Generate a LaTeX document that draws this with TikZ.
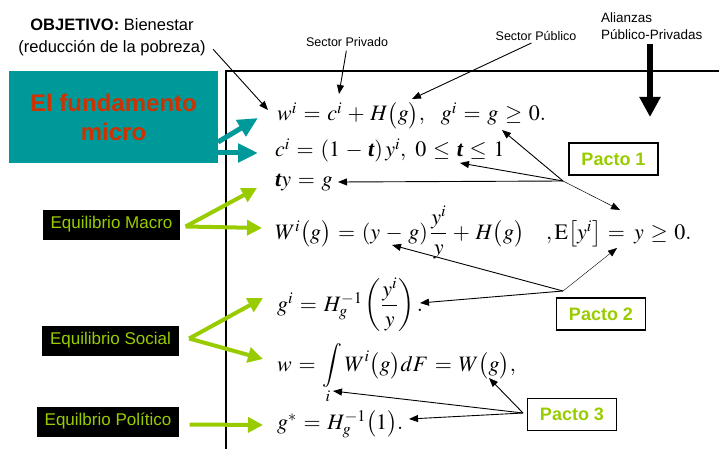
\documentclass[tikz,border=0pt]{standalone}
\usepackage{amsmath}
\usepackage{mathptmx}
\usepackage{fontspec}
\setmainfont{Liberation Serif}
\newfontfamily\arial{Liberation Sans}
\usetikzlibrary{positioning, arrows.meta}

\definecolor{tealbox}{RGB}{0,153,153}
\definecolor{microred}{RGB}{204,51,0}
\definecolor{pactgreen}{RGB}{153,204,0}

\newcommand{\tb}{\mbox{\bfseries\itshape t}}
\thickmuskip=5.5mu plus 2mu
\medmuskip=4.5mu plus 2mu

\tikzset{
  eq/.style={anchor=base west, inner sep=0pt, font=\fontsize{22}{26}\selectfont},
  equil/.style={fill=black, text=pactgreen, inner xsep=8pt, minimum height=30pt,
    font=\arial\fontsize{17}{20}\selectfont},
  pacto/.style={draw=black, line width=1.2pt, text=pactgreen, minimum width=89pt,
    minimum height=32pt, font=\arial\bfseries\fontsize{18}{20}\selectfont},
  note/.style={inner sep=0pt, font=\arial\fontsize{12.5}{15}\selectfont},
  ptr/.style={-{Triangle[length=9pt,width=7pt]}, line width=0.9pt},
  tealarrow/.style={-{Triangle[length=20pt,width=18pt]}, line width=5pt, tealbox},
  greenarrow/.style={-{Triangle[length=15pt,width=15pt]}, line width=4pt, pactgreen},
}

\begin{document}
\begin{tikzpicture}[x=1pt, y=-1pt]
  \useasboundingbox (0,0) rectangle (719,449);

  % marco
  \draw[line width=1.2pt] (226,449) -- (226,71) -- (719,71);

  % titulos
  \node[align=center, font=\arial\fontsize{16.5}{22}\selectfont] (obj) at (112,37)
    {\textbf{OBJETIVO:} Bienestar\\(reducción de la pobreza)};
  \node[fill=tealbox, text=microred, align=center, minimum width=209pt, minimum height=92pt,
    font=\arial\bfseries\fontsize{24}{29}\selectfont] (micro) at (113.5,117) {El fundamento\\micro};
  \node[note] (priv) at (347,42) {Sector Privado};
  \node[note] (pub) at (536,36) {Sector Público};
  \node[note, align=left, anchor=north west, font=\arial\fontsize{13.5}{17}\selectfont] (ali) at (601,13)
    {Alianzas\\Público-Privadas};

  % ecuaciones
  \node[eq] (e1) at (277,121) {$w^{i} = c^{i} + H\bigl(g\bigr),\;\; g^{i} = g \geq 0.$};
  \node[eq] (e2) at (275,157) {$c^{i} = (1-\tb)\,y^{i},\; 0 \leq \tb \leq 1$};
  \node[eq] (e3) at (275,186) {$\tb y = g$};
  \node[eq] (e4) at (275,239)
    {$W^{i}\bigl(g\bigr) = (y-g)\,\dfrac{y^{i}}{y} + H\bigl(g\bigr) \quad ,\mathrm{E}\bigl[y^{i}\bigr] = \,y \geq 0.$};
  \node[eq] (e5) at (277,311) {$g^{i} = H_{g}^{-1}\left(\dfrac{y^{i}}{y}\right).$};
  \node[eq] (e6) at (277,371) {$w = \displaystyle\int\limits_{i} W^{i}\bigl(g\bigr)dF = W\bigl(g\bigr),$};
  \node[eq] (e7) at (277,429) {$g^{*} = H_{g}^{-1}\bigl(1\bigr).$};

  % equilibrios y pactos
  \node[equil] (macro) at (111.5,224.5) {Equilibrio Macro};
  \node[equil] (social) at (110.5,340.5) {Equilibrio Social};
  \node[equil] (polit) at (108,421.5) {Equilbrio Político};
  \node[pacto] (pacto1) at (613.5,159) {Pacto 1};
  \node[pacto] (pacto2) at (601,314) {Pacto 2};
  \node[pacto] (pacto3) at (572,414.5) {Pacto 3};

  % puntos de llegada
  \coordinate (wtip) at (268,110);
  \coordinate (privtip) at (339,94);
  \coordinate (pubtip) at (412,99);
  \coordinate (alitip) at (650,117);
  \coordinate (p1) at (563,181);
  \coordinate (p2) at (563,291);
  \coordinate (p3) at (523,413);
  \coordinate (gtip) at (502,130);
  \coordinate (ttip) at (460,163);
  \coordinate (tytip) at (338,182);
  \coordinate (etop) at (620,210);
  \coordinate (frac) at (420,303);
  \coordinate (ygtip) at (392,245);
  \coordinate (ebot) at (617,248);
  \coordinate (startip) at (409,419);
  \coordinate (Wgtip) at (489,378);
  \coordinate (itip) at (333,391);
  \coordinate (microA) at (218,142);
  \coordinate (microB) at (218,153);
  \coordinate (wcol) at (258,118);
  \coordinate (ccol) at (258,153);
  \coordinate (macroA) at (257,188);
  \coordinate (macroB) at (262,228);
  \coordinate (socA) at (263,298);
  \coordinate (socB) at (263,359);
  \coordinate (polA) at (263,425);

  \draw[ptr] (obj.south east) ++(4,-10) -- (wtip);
  \draw[ptr, shorten <=4pt] (priv.south) -- (privtip);
  \draw[ptr, shorten <=5pt] (pub.south) -- (pubtip);
  \draw[-{Triangle[length=20pt,width=20pt]}, line width=6pt, shorten <=4pt] (ali.south -| alitip) -- (alitip);

  \draw[tealarrow] (microA) -- (wcol);
  \draw[tealarrow] (microB) -- (ccol);

  \draw[greenarrow] (macro.east) ++(5,2) -- (macroA);
  \draw[greenarrow] (macro.east) ++(5,2) -- (macroB);
  \draw[greenarrow] (social.east) ++(10,-2) -- (socA);
  \draw[greenarrow] (social.east) ++(10,-2) -- (socB);
  \draw[greenarrow] (polit.east) ++(10,3) -- (polA);

  \draw[ptr] (p1) -- (gtip);
  \draw[ptr] (p1) -- (ttip);
  \draw[ptr] (p1) -- (tytip);
  \draw[ptr, line width=0.5pt] (p1) -- (etop);

  \draw[ptr] (p2) -- (frac);
  \draw[ptr] (p2) -- (ygtip);
  \draw[ptr, line width=0.4pt] (p2) -- (ebot);

  \draw[ptr] (p3) -- (startip);
  \draw[ptr] (p3) -- (Wgtip);
  \draw[ptr] (p3) -- (itip);
\end{tikzpicture}
\end{document}
